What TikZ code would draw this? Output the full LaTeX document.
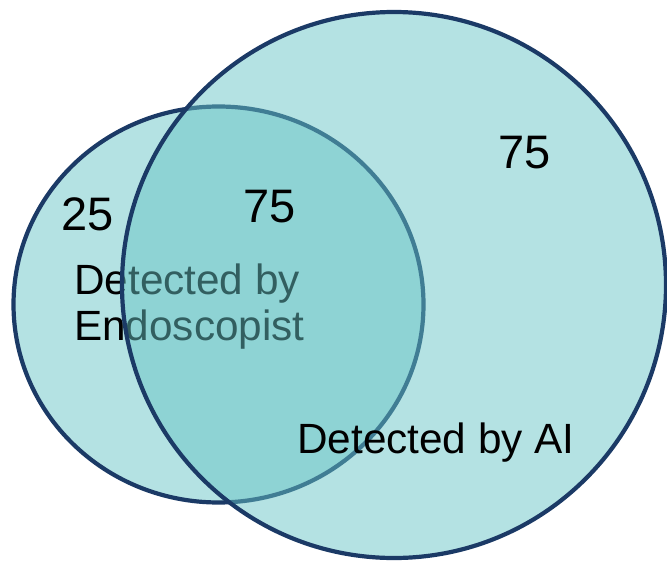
\documentclass[tikz,border=0pt]{standalone}
\usepackage{fontspec}
\setmainfont{Liberation Sans}
\definecolor{navy}{RGB}{27,58,102}
\definecolor{tealfill}{RGB}{103,195,197}
\begin{document}
\begin{tikzpicture}[x=1pt,y=-1pt,
  setshape/.style={draw=navy, line width=4.2pt, fill=tealfill, fill opacity=0.49, draw opacity=1},
  numlbl/.style={inner sep=0pt, anchor=base, font=\fontsize{47}{52}\selectfont},
  txtlbl/.style={inner sep=0pt, font=\fontsize{42.3}{46}\selectfont}]
\useasboundingbox (0,0) rectangle (667,562);
\path[setshape] (218.5,304.5) ellipse [x radius=205, y radius=198];
\node[txtlbl, anchor=north west, align=left] (endo) at (74,264) {Detected by\\Endoscopist};
\path[setshape] (394,285) ellipse [x radius=272, y radius=273];
\node[numlbl] (n25) at (88,230) {25};
\node[numlbl] (n75a) at (270,222) {75};
\node[numlbl] (n75b) at (525,168) {75};
\node[txtlbl, anchor=base west] (ai) at (297,453) {Detected by AI};
\end{tikzpicture}
\end{document}
